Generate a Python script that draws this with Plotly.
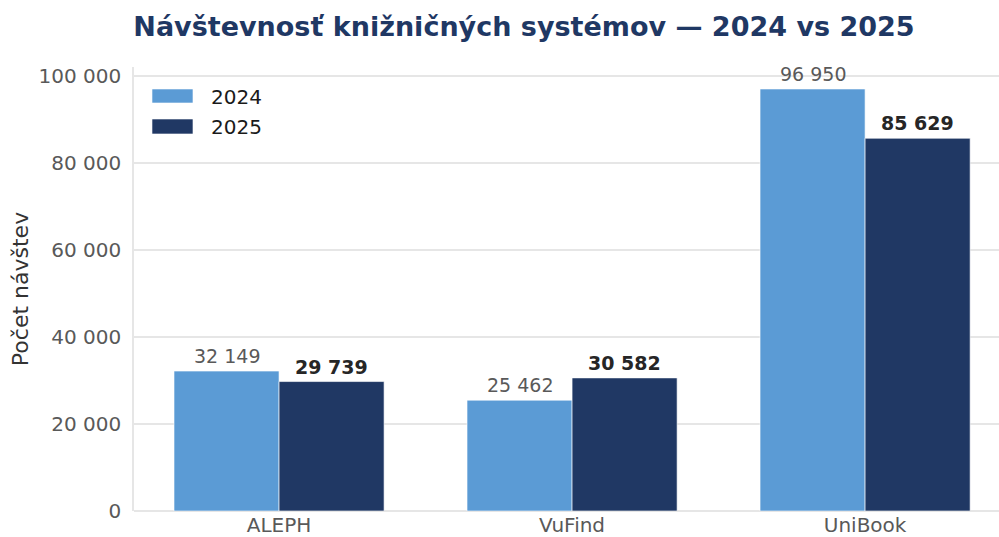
import plotly.graph_objects as go

categories = ["ALEPH", "VuFind", "UniBook"]
values_2024 = [32149, 25462, 96950]
values_2025 = [29739, 30582, 85629]
series_names = ["2024", "2025"]
y_ticks = [0, 20000, 40000, 60000, 80000, 100000]

def fmt(v):
    return f"{v:,}".replace(",", " ")

C24 = "#5b9bd5"
C25 = "#203864"
FONT = "DejaVu Sans"

fig = go.Figure()
fig.add_trace(go.Bar(x=categories, y=values_2024, name=series_names[0], showlegend=False,
                     marker=dict(color=C24, line=dict(color="rgba(255,255,255,0.6)", width=1))))
fig.add_trace(go.Bar(x=categories, y=values_2025, name=series_names[1], showlegend=False,
                     marker=dict(color=C25, line=dict(color="rgba(255,255,255,0.6)", width=1))))

for i, c in enumerate(categories):
    fig.add_annotation(x=c, y=values_2024[i], text=fmt(values_2024[i]), xshift=-52.5, yshift=2,
                       yanchor="bottom", showarrow=False,
                       font=dict(family=FONT, size=19, color="#595959"))
    fig.add_annotation(x=c, y=values_2025[i], text="<b>" + fmt(values_2025[i]) + "</b>", xshift=52.5,
                       yshift=2, yanchor="bottom", showarrow=False,
                       font=dict(family=FONT, size=19, color="#262626"))

# custom legend (wide swatches as in the reference)
legend_items = [(series_names[0], C24, 0.9505, 0.9189, 0.9324),
                (series_names[1], C25, 0.8829, 0.8491, 0.8649)]
for name, col, y1, y0, yt in legend_items:
    fig.add_shape(type="rect", xref="x domain", yref="y domain",
                  x0=0.0208, x1=0.0682, y0=y0, y1=y1,
                  fillcolor=col, line=dict(color="rgba(255,255,255,0.6)", width=1))
    fig.add_annotation(xref="x domain", yref="y domain", x=0.0867, y=yt, text=name,
                       xanchor="left", yanchor="middle", showarrow=False,
                       font=dict(family=FONT, size=20, color="#1a1a1a"))

fig.update_layout(
    width=999, height=537,
    margin=dict(l=134, r=0, t=67, b=26),
    paper_bgcolor="white", plot_bgcolor="white",
    font=dict(family=FONT, size=20, color="#595959"),
    title=dict(text="<b>Návštevnosť knižničných systémov — 2024 vs 2025</b>",
               x=0.5245, xanchor="center", y=0.9497, yanchor="middle",
               font=dict(family=FONT, size=27, color="#1f3864")),
    barmode="group", bargap=0.283, bargroupgap=0,
    separators=". ",
    showlegend=False,
    xaxis=dict(range=[-0.495, 2.457], showgrid=False, showline=False, ticks="",
               ticklabelstandoff=0,
               tickfont=dict(family=FONT, size=20, color="#595959"), automargin=False),
    yaxis=dict(range=[0, 102000], tickvals=y_ticks, tickformat=",d",
               showgrid=True, gridcolor="#e6e6e6", gridwidth=1.5,
               showline=True, linecolor="#e6e6e6", linewidth=1.5,
               zeroline=True, zerolinecolor="#e6e6e6", zerolinewidth=1.5,
               ticks="", ticklabelstandoff=7,
               tickfont=dict(family=FONT, size=20, color="#595959"),
               title=dict(text="Počet návštev", standoff=4,
                          font=dict(family=FONT, size=22, color="#333333")),
               automargin=False),
)

fig.write_html("out.html", config={"displayModeBar": False},
               post_script="document.body.style.margin='0';document.body.style.overflow='hidden';")
